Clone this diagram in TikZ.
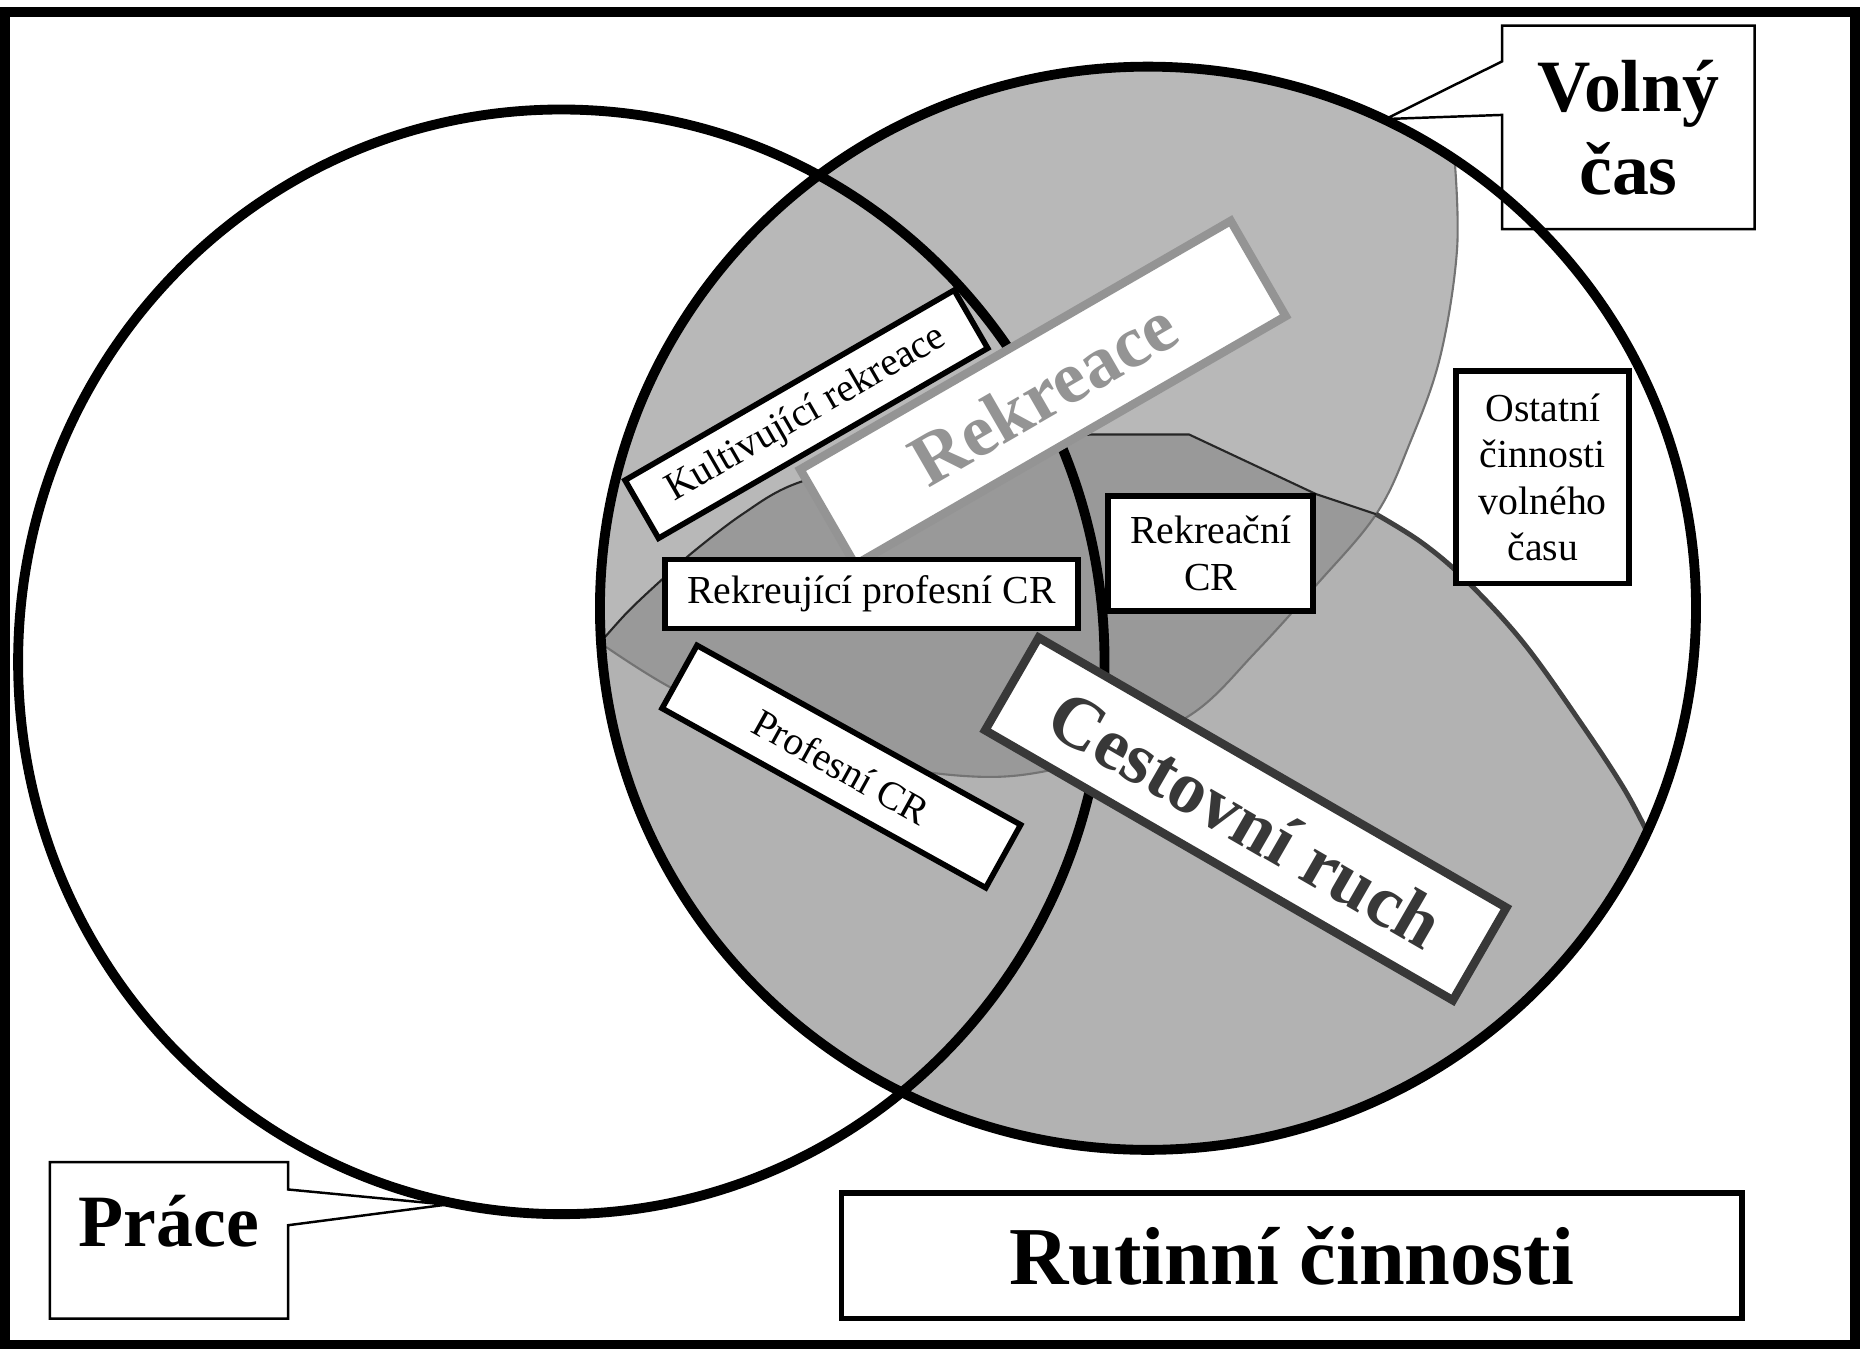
\documentclass[tikz,border=0pt]{standalone}
\usepackage{fontspec}
\setmainfont{Liberation Serif}
\usetikzlibrary{calc}

\definecolor{rekfill}{gray}{0.72}
\definecolor{cesfill}{gray}{0.70}
\definecolor{bothfill}{gray}{0.60}
\definecolor{rekgray}{gray}{0.58}
\definecolor{cesgray}{gray}{0.22}

\tikzset{
  rim/.style={line width=2.8pt},
  tagbox/.style={draw, line width=1.6pt, fill=white, inner sep=0pt, align=center,
    font=\fontsize{11.3}{13.2}\selectfont},
  callbox/.style={fill=white, inner sep=0pt, align=center,
    font=\fontsize{21}{23.6}\selectfont\bfseries},
  bandbox/.style={draw, line width=2.4pt, fill=white, inner sep=0pt,
    font=\fontsize{21}{24}\selectfont\bfseries},
  calloutline/.style={line width=0.7pt},
}

% region outlines (sketch pixel units)
\newcommand{\rekline}{plot[smooth,tension=0.6] coordinates {(497,540) (560,580) (640,614) (720,640) (800,652) (860,649) (925,630) (990,598) (1040,548) (1090,492) (1140,432) (1168,372) (1193,300) (1207,210) (1205,134)}}
\newcommand{\cesline}{plot[smooth,tension=0.5] coordinates {(497,540) (520,514) (545,490) (575,463) (615,432) (660,406) (760,378) (905,365)} -- (985,365) -- (1090,415) -- (1140,432)}
\newcommand{\cesrim}{plot[smooth,tension=0.6] coordinates {(1140,432) (1178,456) (1215,488) (1262,540) (1310,608) (1345,662) (1365,700)}}
\newcommand{\rekpath}{(460,545) -- plot[smooth,tension=0.6] coordinates {(497,540) (560,580) (640,614) (720,640) (800,652) (860,649) (925,630) (990,598) (1040,548) (1090,492) (1140,432) (1168,372) (1193,300) (1207,210) (1205,134)} -- (1215,40) -- (460,40) -- cycle}
\newcommand{\cespath}{(460,540) -- plot[smooth,tension=0.5] coordinates {(497,540) (520,514) (545,490) (575,463) (615,432) (660,406) (760,378) (905,365)} -- (985,365) -- (1090,415) -- (1140,432) -- plot[smooth,tension=0.6] coordinates {(1140,432) (1178,456) (1215,488) (1262,540) (1310,608) (1345,662) (1365,700)} -- (1440,705) -- (1440,1000) -- (460,1000) -- cycle}

\begin{document}
\begin{tikzpicture}[x=0.012071cm, y=-0.011897cm]
  \useasboundingbox (0,0) rectangle (1545,1133);

  % shaded areas
  \begin{scope}
    \clip (951,511) ellipse [x radius=454, y radius=455];
    \fill[rekfill] \rekpath;
    \fill[cesfill] \cespath;
    \clip \rekpath;
    \fill[bothfill] \cespath;
  \end{scope}
  \draw[black!55, line width=0.6pt] \rekline;
  \draw[black!85, line width=0.6pt] \cesline;
  \draw[black!75, line width=1.4pt] \cesrim;

  % callout boxes
  \node[callbox, minimum width=2.51cm, minimum height=2.02cm] (volny) at (1349,107) {Volný\\čas};
  \coordinate (volnytip) at (1148,100);
  \draw[calloutline] (volny.north west) -- ($(volny.north west)+(0,30)$) -- (volnytip)
    -- ($(volny.north west)+(0,75)$) -- (volny.south west) -- (volny.south east)
    -- (volny.north east) -- cycle;

  \node[callbox, minimum width=2.37cm, minimum height=1.55cm, text height=0.55cm,
    text depth=0.43cm] (prace) at (140,1042) {Práce};
  \coordinate (pracetip) at (370,1012);
  \draw[calloutline] (prace.north east) -- ($(prace.north east)+(0,23)$) -- (pracetip)
    -- ($(prace.north east)+(0,53)$) -- (prace.south east) -- (prace.south west)
    -- (prace.north west) -- cycle;

  % the two ellipses
  \draw[rim] (465,556) ellipse [x radius=450, y radius=464];
  \draw[rim] (951,511) ellipse [x radius=454, y radius=455];

  % labels
  \node[tagbox, rotate=30, minimum width=3.8cm, minimum height=0.67cm] (kultivujici) at (668,348) {Kultivující rekreace};
  \node[bandbox, draw=rekgray, text=rekgray, rotate=30, minimum width=4.97cm, minimum height=1.1cm] (rekreace) at (864,330) {Rekreace};
  \node[tagbox, minimum width=4.13cm, minimum height=0.69cm] (rekprof) at (722,499) {Rekreující profesní CR};
  \node[tagbox, minimum width=2.05cm, minimum height=1.15cm] (rekcr) at (1003,465) {Rekreační\\CR};
  \node[tagbox, minimum width=1.73cm, minimum height=2.12cm] (ostatni) at (1278,401) {Ostatní\\činnosti\\volného\\času};
  \node[tagbox, rotate=-29, minimum width=3.7cm, minimum height=0.72cm] (profesni) at (697,644) {Profesní CR};
  \node[bandbox, draw=cesgray, text=cesgray, rotate=-30, minimum width=5.4cm, minimum height=1.07cm] (cestovni) at (1032,688) {Cestovní ruch};
  \node[tagbox, line width=1.6pt, minimum width=9cm, minimum height=1.25cm,
    font=\fontsize{23.4}{26}\selectfont\bfseries] (rutinni) at (1070,1055) {Rutinní činnosti};

  % outer frame
  \draw[line width=2.8pt] (4,10) rectangle (1537,1130);
\end{tikzpicture}
\end{document}
